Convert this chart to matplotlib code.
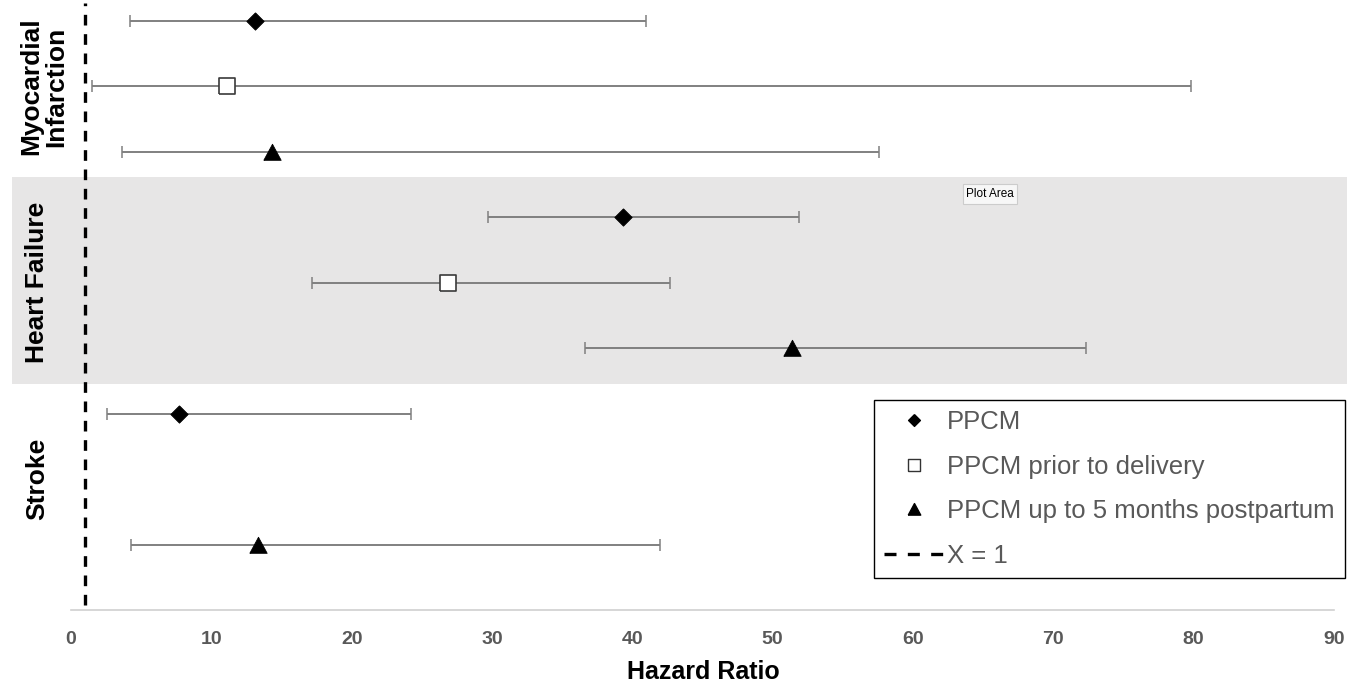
import numpy as np
import matplotlib
matplotlib.use("Agg")
import matplotlib.pyplot as plt
from matplotlib.lines import Line2D
from matplotlib.patches import Rectangle
from matplotlib.transforms import blended_transform_factory

plt.rcParams['font.family'] = ['Liberation Sans', 'DejaVu Sans']

# ---- data ----
categories = ["Myocardial\nInfarction", "Heart Failure", "Stroke"]
series = ["PPCM", "PPCM prior to delivery", "PPCM up to 5 months postpartum"]

hr_ppcm = [13.1, 39.3, 7.7]
lo_ppcm = [4.2, 29.7, 2.6]
hi_ppcm = [41.0, 51.9, 24.2]

hr_prior = [11.1, 26.9, np.nan]
lo_prior = [1.5, 17.2, np.nan]
hi_prior = [79.8, 42.7, np.nan]

hr_post = [14.3, 51.4, 13.3]
lo_post = [3.6, 36.6, 4.3]
hi_post = [57.6, 72.3, 42.0]

xticks = [0, 10, 20, 30, 40, 50, 60, 70, 80, 90]
ref_x = 1

# ---- figure ----
W, H = 1349, 684
fig = plt.figure(figsize=(W / 100, H / 100), dpi=100)
ax = fig.add_axes([71 / W, 1 - 610 / H, (1334 - 71) / W, 610 / H])
ax.set_xlim(0, 90)
ax.set_ylim(0, 9.32)

# shaded band for Heart Failure
tr = blended_transform_factory(fig.transFigure, ax.transData)
ax.add_patch(Rectangle((12 / W, 3.46), (1347 - 12) / W, 6.62 - 3.46,
                       transform=tr, facecolor='#e7e6e6', edgecolor='none',
                       clip_on=False, zorder=0))

# markers
diamond = [(0, 1), (1, 0), (0, -1), (-1, 0), (0, 1)]
rect = [(-1, -1), (1, -1), (1, 1), (-1, 1), (-1, -1)]
tri = [(-1, -0.9), (1, -0.9), (0, 0.95), (-1, -0.9)]

styles = [
    dict(marker=diamond, mfc='black', mec='black', ms=12.5, mew=0.6),
    dict(marker=rect, mfc='white', mec='#3a3a3a', ms=12, mew=1.2),
    dict(marker=tri, mfc='black', mec='black', ms=12.5, mew=0.6),
]
hrs = [hr_ppcm, hr_prior, hr_post]
los = [lo_ppcm, lo_prior, lo_post]
his = [hi_ppcm, hi_prior, hi_post]

for j in range(3):
    for i in range(len(categories)):
        h = hrs[j][i]
        if np.isnan(h):
            continue
        y = 9 - 3 * i - j
        ax.errorbar([h], [y], xerr=[[h - los[j][i]], [his[j][i] - h]],
                    fmt='none', ecolor='#808080', elinewidth=1.4,
                    capsize=4.5, capthick=1.1, zorder=2)
        ax.plot([h], [y], linestyle='none', zorder=3, **styles[j])

# reference line
ax.plot([ref_x, ref_x], [0.08, 9.27], color='black', lw=2.4,
        dashes=(3.2, 2.6), zorder=1)

# axes styling
for s in ['top', 'right', 'left']:
    ax.spines[s].set_visible(False)
ax.spines['bottom'].set_color('#d0d0d0')
ax.spines['bottom'].set_linewidth(1.2)
ax.set_yticks([])
ax.set_xticks(xticks)
ax.tick_params(axis='x', length=0, pad=15, labelsize=14, labelcolor='#595959')
for lab in ax.get_xticklabels():
    lab.set_fontweight('bold')
fig.text(703 / W, 1 - 672 / H, "Hazard Ratio", fontsize=18,
         fontweight='bold', ha='center', va='center')

# category labels
cat_x = [44, 37, 37]
for i, c in enumerate(categories):
    y = 9 - 3 * i - 1
    ax.text(cat_x[i] / W, y, c, transform=tr, rotation=90, ha='center',
            va='center', fontsize=19, fontweight='bold', linespacing=1.05,
            multialignment='center')

# legend
handles = [
    Line2D([], [], linestyle='none', marker=diamond, mfc='black', mec='black', ms=8.5),
    Line2D([], [], linestyle='none', marker=rect, mfc='white', mec='#333333', ms=8.5, mew=1),
    Line2D([], [], linestyle='none', marker=tri, mfc='black', mec='black', ms=9),
    Line2D([], [], color='black', lw=2.4, dashes=(3.6, 3.4)),
]
labels = series + ["X = 1"]
leg = fig.legend(handles, labels, loc='upper left',
                 bbox_to_anchor=(874 / W, 1 - 400 / H), fontsize=18.5,
                 frameon=True, fancybox=False, edgecolor='black',
                 framealpha=1, handlelength=2.3, handletextpad=0.15,
                 borderpad=0.4, labelspacing=0.8, borderaxespad=0)
leg.get_frame().set_linewidth(1.0)
for t in leg.get_texts():
    t.set_color('#595959')

# tooltip artifact
fig.text(990 / W, 1 - 194 / H, "Plot Area", fontsize=8.5, ha='center',
         va='center', color='black',
         bbox=dict(boxstyle='square,pad=0.3', facecolor='#f7f7f7',
                   edgecolor='#cccccc', linewidth=0.8))

fig.savefig("out.png", dpi=100)
